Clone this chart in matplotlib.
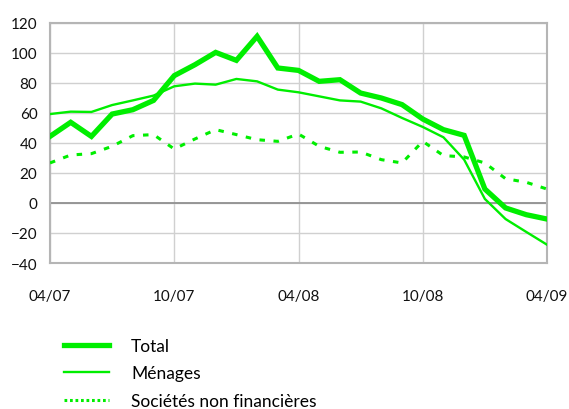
import matplotlib
matplotlib.use("Agg")
import matplotlib.pyplot as plt
from matplotlib.lines import Line2D

plt.rcParams['font.family'] = ['Lato', 'DejaVu Sans']

months = ["04/07", "05/07", "06/07", "07/07", "08/07", "09/07", "10/07", "11/07", "12/07",
          "01/08", "02/08", "03/08", "04/08", "05/08", "06/08", "07/08", "08/08", "09/08",
          "10/08", "11/08", "12/08", "01/09", "02/09", "03/09", "04/09"]
tick_labels = ["04/07", "10/07", "04/08", "10/08", "04/09"]
series_names = ["Total", "Ménages", "Sociétés non financières"]

total = [44.4, 53.8, 44.4, 59.3, 62.2, 68.4, 84.9, 92.2, 100.4, 95.1, 111.1, 90.0, 88.4,
         81.1, 82.2, 73.3, 70.0, 65.6, 56.0, 48.9, 45.1, 9.3, -3.3, -7.8, -10.7]
menages = [59.3, 60.9, 60.7, 65.3, 68.4, 71.6, 77.8, 79.6, 78.9, 82.7, 81.1, 75.6, 73.8,
           71.1, 68.4, 67.6, 63.1, 56.7, 50.7, 43.8, 28.9, 2.7, -10.7, -19.3, -27.8]
societes = [26.7, 32.0, 32.9, 37.8, 44.9, 45.6, 36.0, 42.7, 48.9, 45.6, 42.2, 41.1, 46.0,
            37.8, 33.8, 34.0, 28.9, 26.7, 41.1, 31.6, 30.7, 26.7, 16.2, 13.8, 9.3]

green = "#00ee00"
x = list(range(len(months)))

fig = plt.figure(figsize=(5.69, 4.10), dpi=100)
ax = fig.add_axes([50/569, 1-264/410, 497/569, 240/410])

ax.plot(x, total, color=green, lw=3.8, solid_joinstyle='miter', zorder=4)
ax.plot(x, menages, color=green, lw=1.7, zorder=3)
ax.plot(x, societes, color=green, lw=2.2, linestyle=(0, (1.8, 2.8)), zorder=3)

ax.set_xlim(0, 24)
ax.set_ylim(-40, 120)
ax.set_yticks(range(-40, 121, 20))
tick_pos = [months.index(t) for t in tick_labels]
ax.set_xticks(tick_pos)
ax.set_xticklabels(tick_labels)

ax.grid(True, color="#d0d0d0", lw=1.0)
ax.set_axisbelow(True)
ax.axhline(0, color="#909090", lw=1.3, zorder=2)
for s in ax.spines.values():
    s.set_color("#b5b5b5")
    s.set_linewidth(1.5)
ax.tick_params(axis='both', length=0, labelsize=11, colors="#111111")
ax.tick_params(axis='x', pad=19)
ax.tick_params(axis='y', pad=9)

handles = [
    Line2D([], [], color=green, lw=3.8),
    Line2D([], [], color=green, lw=1.7),
    Line2D([], [], color=green, lw=2.2, linestyle=(0, (0.9, 0.9))),
]
fig.legend(handles=handles, labels=series_names, loc="upper left",
           bbox_to_anchor=(64/569, 1-339/410),
           frameon=False, fontsize=12.5, handlelength=2.6, handletextpad=1.27,
           labelspacing=0.66, borderaxespad=0, borderpad=0)

fig.savefig("out.png", dpi=100)
